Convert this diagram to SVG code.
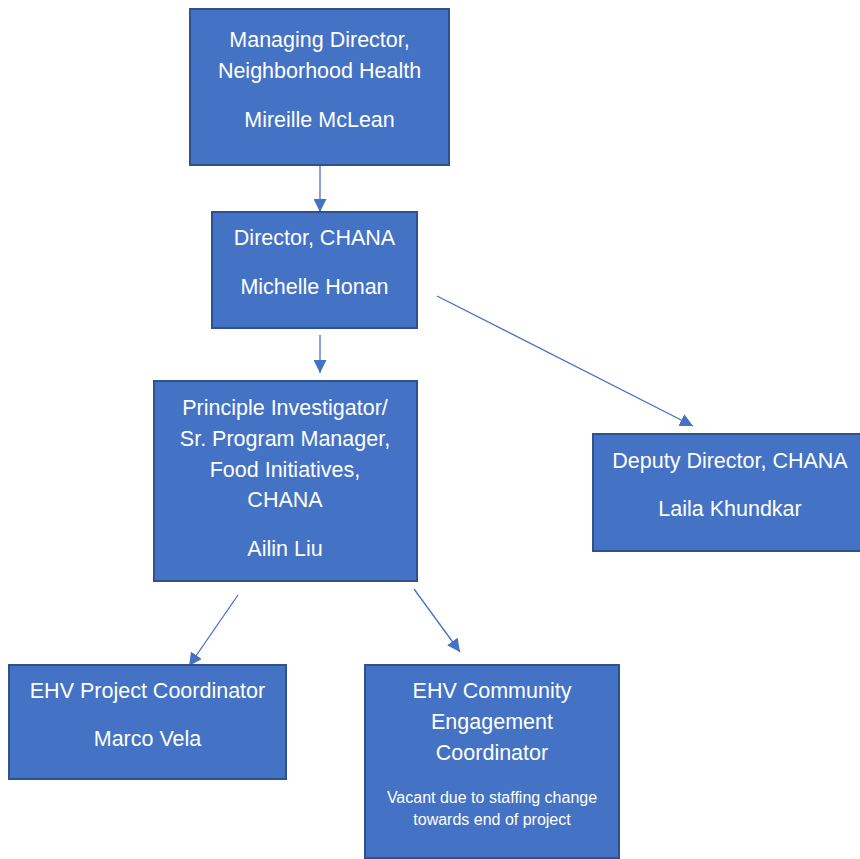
<svg xmlns="http://www.w3.org/2000/svg" width="860" height="859" viewBox="0 0 860 859">
<style>
.box{fill:#4472C4;stroke:#2F528F;stroke-width:2}
.t{font-family:"Liberation Sans",Arial,sans-serif;font-size:21.5px;fill:#FFFFFF;text-anchor:middle}
.s{font-family:"Liberation Sans",Arial,sans-serif;font-size:16px;fill:#FFFFFF;text-anchor:middle}
.c{stroke:#4472C4;stroke-width:1.3;fill:none;marker-end:url(#ah)}
</style>
<defs>
<marker id="ah" markerUnits="userSpaceOnUse" markerWidth="13" markerHeight="13" refX="12" refY="6" orient="auto" viewBox="0 0 12 12">
<path d="M0,0 L12,6 L0,12 z" fill="#4472C4"/>
</marker>
</defs>
<rect width="860" height="859" fill="#FFFFFF"/>
<g id="connectors">
<line class="c" x1="320" y1="166" x2="320" y2="212"/>
<line class="c" x1="320" y1="335" x2="320" y2="373"/>
<line class="c" x1="437" y1="296" x2="693" y2="426"/>
<line class="c" x1="238" y1="595" x2="189" y2="666"/>
<line class="c" x1="414" y1="589" x2="460" y2="652"/>
</g>
<g id="managing-director">
<rect class="box" x="190" y="9" width="259" height="156"/>
<text class="t" x="319.5" y="47">Managing Director,</text>
<text class="t" x="319.5" y="78">Neighborhood Health</text>
<text class="t" x="319.5" y="127">Mireille McLean</text>
</g>
<g id="director">
<rect class="box" x="212" y="212" width="205" height="116"/>
<text class="t" x="314.5" y="245">Director, CHANA</text>
<text class="t" x="314.5" y="294">Michelle Honan</text>
</g>
<g id="principal-investigator">
<rect class="box" x="154" y="381" width="263" height="200"/>
<text class="t" x="285" y="415">Principle Investigator/</text>
<text class="t" x="285" y="446">Sr. Program Manager,</text>
<text class="t" x="285" y="477">Food Initiatives,</text>
<text class="t" x="285" y="507">CHANA</text>
<text class="t" x="285" y="556">Ailin Liu</text>
</g>
<g id="deputy-director">
<rect class="box" x="593" y="434" width="274" height="117"/>
<text class="t" x="730" y="468">Deputy Director, CHANA</text>
<text class="t" x="730" y="516">Laila Khundkar</text>
</g>
<g id="project-coordinator">
<rect class="box" x="9" y="665" width="277" height="114"/>
<text class="t" x="147.5" y="698">EHV Project Coordinator</text>
<text class="t" x="147.5" y="746">Marco Vela</text>
</g>
<g id="community-engagement">
<rect class="box" x="365" y="665" width="254" height="193"/>
<text class="t" x="492" y="698">EHV Community</text>
<text class="t" x="492" y="729">Engagement</text>
<text class="t" x="492" y="760">Coordinator</text>
<text class="s" x="492" y="803">Vacant due to staffing change</text>
<text class="s" x="492" y="825">towards end of project</text>
</g>
</svg>
